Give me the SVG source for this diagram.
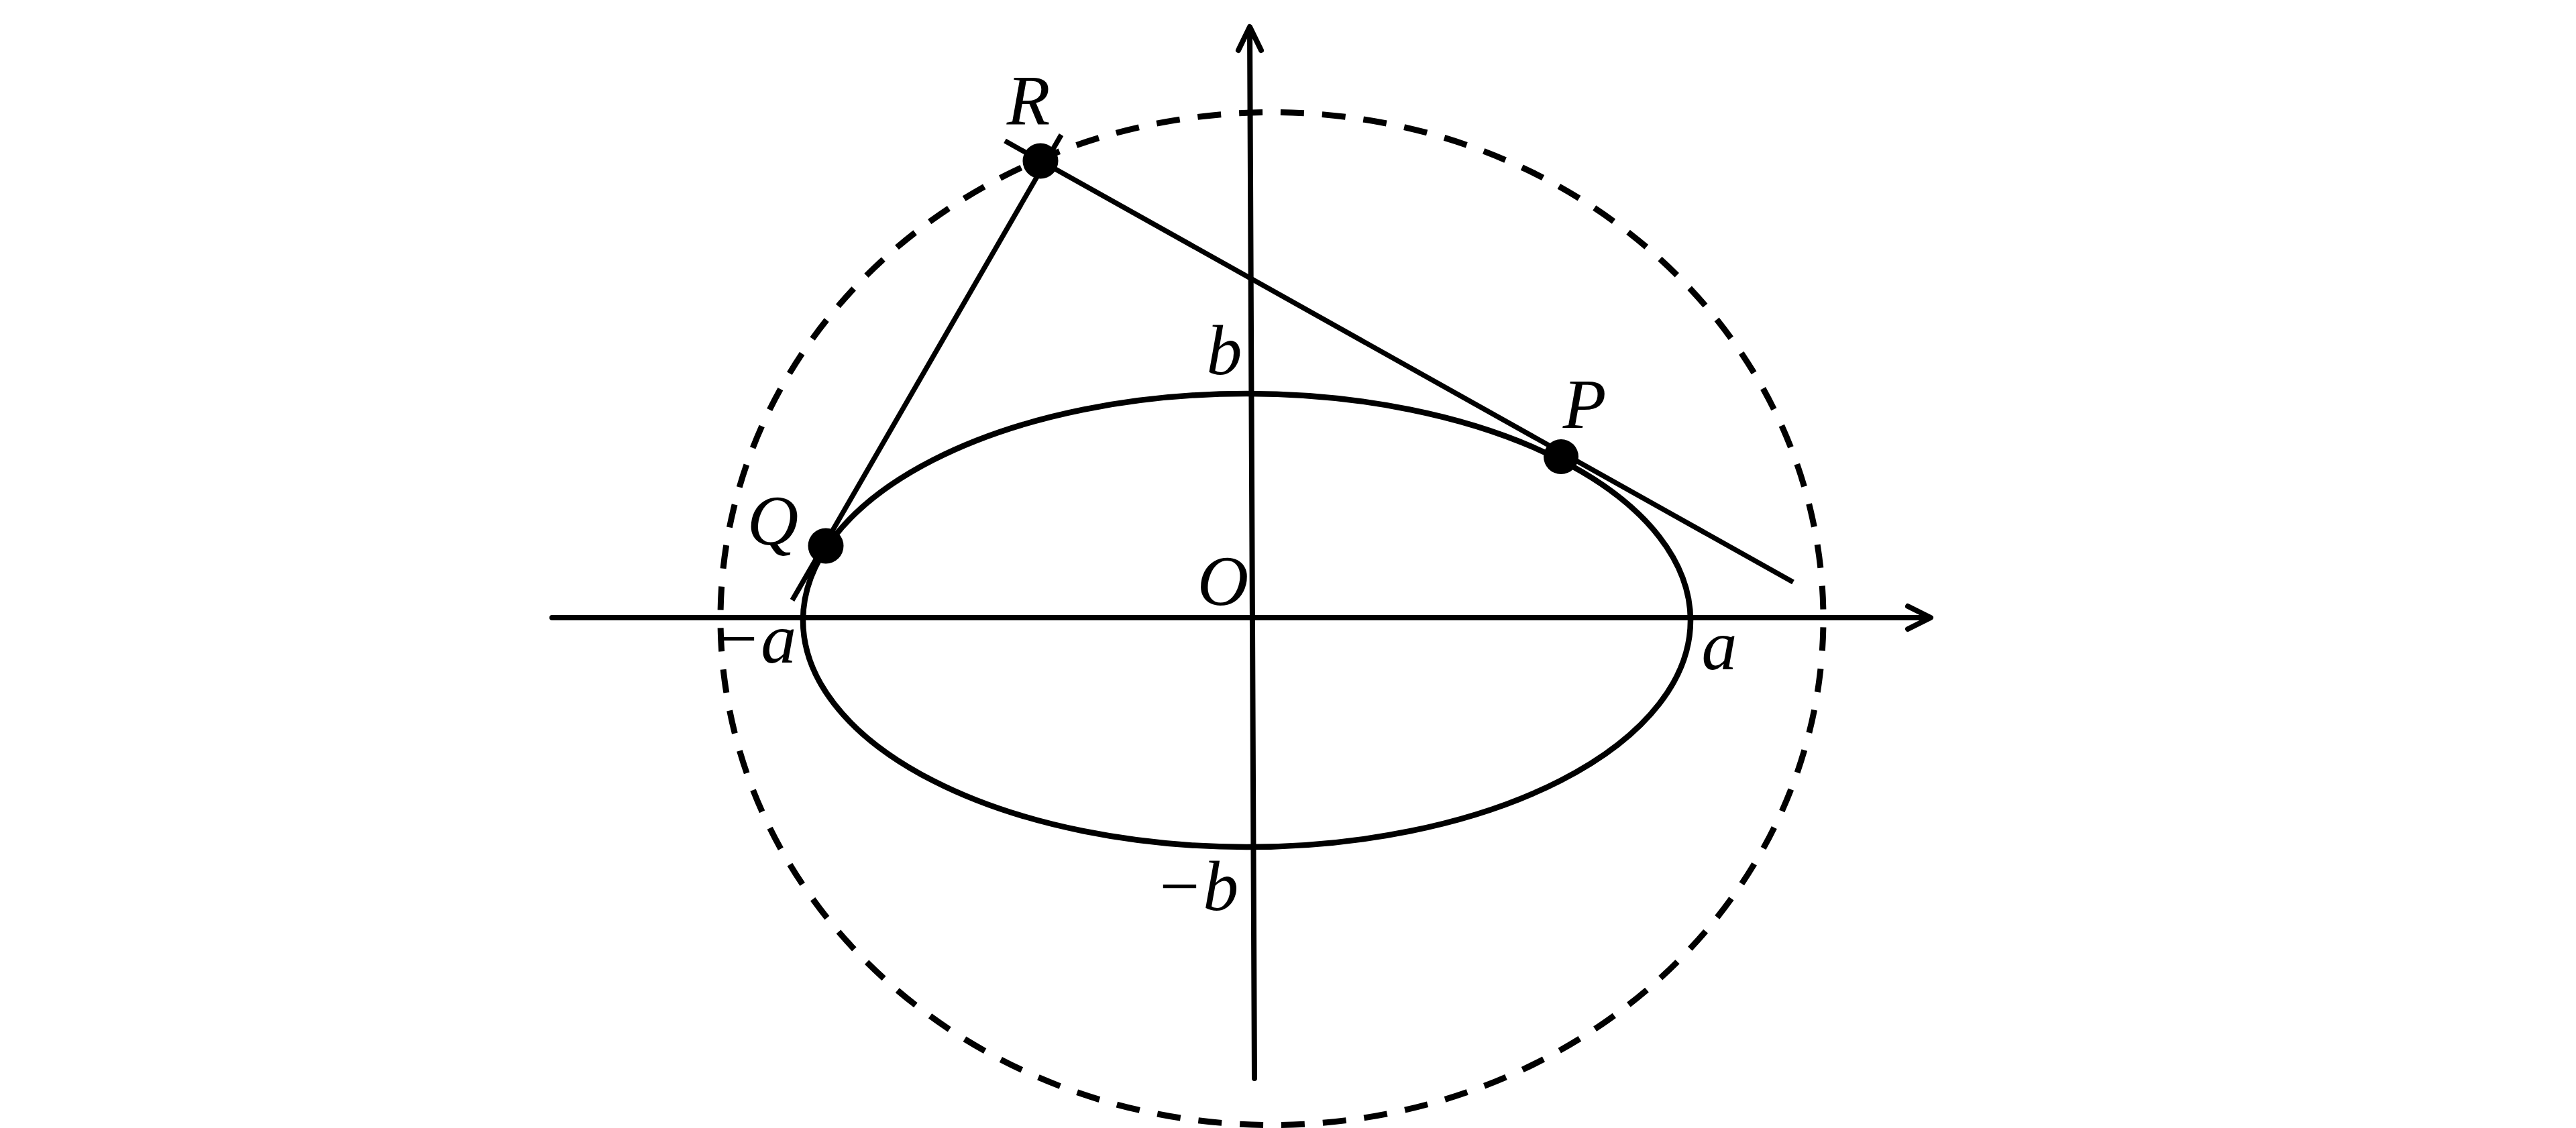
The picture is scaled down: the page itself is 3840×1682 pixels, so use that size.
<svg xmlns="http://www.w3.org/2000/svg" width="3840" height="1682" viewBox="0 0 3840 1682">
<style>
.bg{fill:#ffffff}
.axis{fill:none;stroke:#000;stroke-width:8;stroke-linecap:round;stroke-linejoin:round}
.curve{fill:none;stroke:#000;stroke-width:8.5}
.dash{fill:none;stroke:#000;stroke-width:9;stroke-dasharray:35 27;stroke-dashoffset:49}
.seg{fill:none;stroke:#000;stroke-width:7.5;stroke-linecap:butt}
.dot{fill:#000}
.lbl{font-family:"Liberation Serif","Times New Roman",serif;font-style:italic;font-size:106px;fill:#000;text-anchor:middle}
</style>
<rect class="bg" x="0" y="0" width="3840" height="1682"/>
<g id="outer-circle">
<ellipse class="dash" cx="1896" cy="922.5" rx="822" ry="755" pathLength="4960"/>
</g>
<g id="ellipse">
<ellipse class="curve" cx="1858.5" cy="925" rx="661.5" ry="338"/>
</g>
<g id="axes">
<line class="axis" x1="823" y1="921" x2="2876" y2="921"/>
<polyline class="axis" points="2844,904 2878,921 2844,938"/>
<line class="axis" x1="1870" y1="1608" x2="1863" y2="42"/>
<polyline class="axis" points="1846,75 1863,40 1880,75"/>
<text class="lbl" x="1823" y="902">O</text>
<text class="lbl" x="2563" y="998">a</text>
<text class="lbl" x="1125" y="988">−a</text>
<text class="lbl" x="1825" y="558">b</text>
<text class="lbl" x="1784" y="1357">−b</text>
</g>
<g id="connectors">
<line class="seg" x1="1498" y1="210" x2="2673" y2="868"/>
<line class="seg" x1="1582" y1="201" x2="1181" y2="895"/>
</g>
<g id="node-R">
<circle class="dot" cx="1551" cy="240" r="26.5"/>
<text class="lbl" x="1533" y="185">R</text>
</g>
<g id="node-P">
<circle class="dot" cx="2327" cy="681" r="26"/>
<text class="lbl" x="2362" y="638">P</text>
</g>
<g id="node-Q">
<circle class="dot" cx="1231" cy="814" r="26.5"/>
<text class="lbl" x="1152" y="812">Q</text>
</g>
</svg>
